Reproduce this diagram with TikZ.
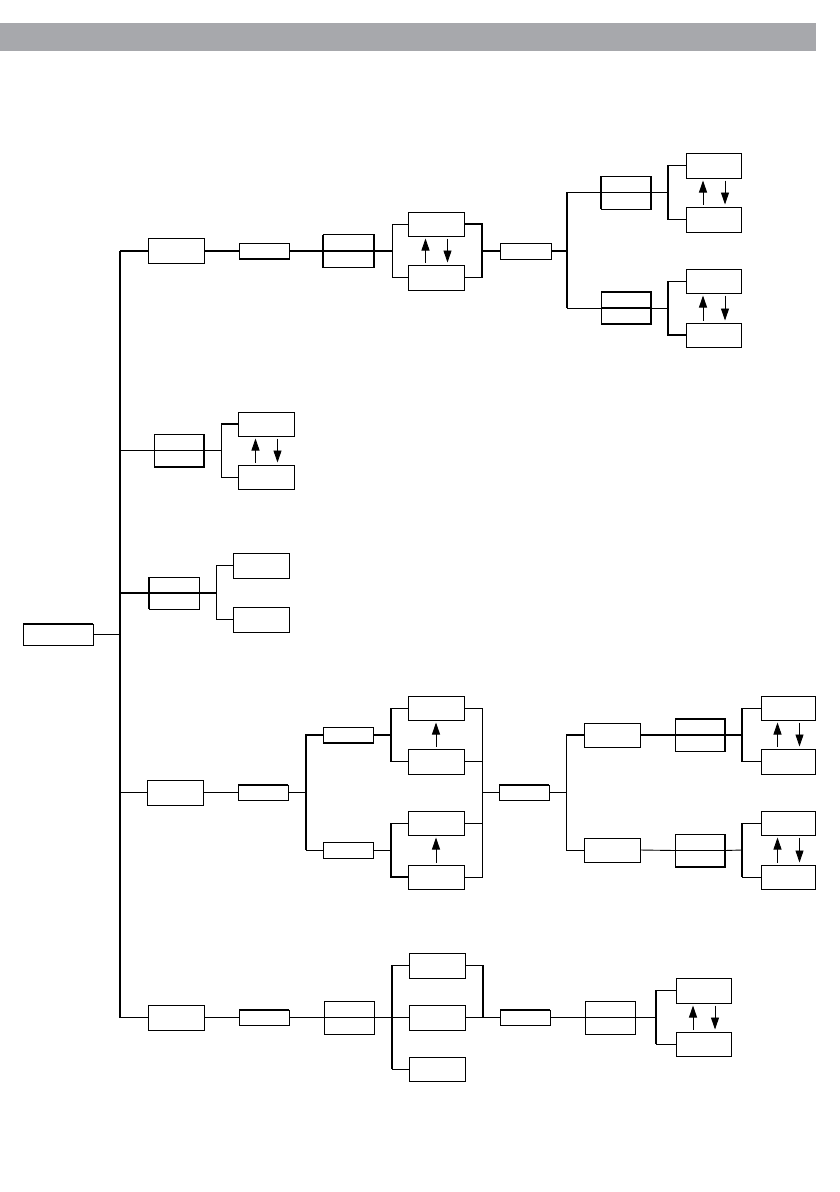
\documentclass[tikz,border=0pt]{standalone}
\usetikzlibrary{arrows.meta}
\definecolor{bargray}{RGB}{167,168,172}
\tikzset{
  box/.style={draw, line width=0.9pt, inner sep=0pt, outer sep=0pt},
  thk/.style={line width=1.8pt},
  thn/.style={line width=0.9pt},
  arr/.style={line width=0.9pt, -{Triangle[length=12pt,width=8pt]}, shorten <=2.5pt, shorten >=2.5pt}
}
\newcommand\bx[5]{\node[box, minimum width=#4pt, minimum height=#5pt] (#1) at (#2,#3) {};}
\newcommand\thru[1]{\draw[thk] (#1.west) -- (#1.east);}
\newcommand\arrpair[2]{%
  \draw[arr] ([xshift=-10.5pt]#2.north) -- ([xshift=-10.5pt]#1.south);
  \draw[arr] ([xshift=11.5pt]#1.south) -- ([xshift=11.5pt]#2.north);}
\newcommand\arrup[2]{\draw[arr] (#2.north) -- (#1.south);}
\begin{document}
\begin{tikzpicture}[x=1pt,y=-1pt]
\useasboundingbox (0,0) rectangle (840,1192);
\fill[bargray] (0,23) rectangle (816,51);

% ---------- boxes ----------
\bx{A1}{176}{251}{56}{25}
\bx{A2}{264}{251}{50}{16}
\bx{A3}{348.5}{251}{51}{33}
\bx{B1}{436}{224}{56}{24}
\bx{B2}{436}{277.5}{56}{25}
\bx{C}{525.5}{251}{51}{16}
\bx{D1}{626}{192.5}{50}{33}
\bx{D2}{626}{308}{50}{32}
\bx{E1}{713.5}{165.5}{55}{25}
\bx{E2}{713.5}{219.5}{55}{25}
\bx{F1}{713.5}{281}{55}{24}
\bx{F2}{713.5}{335}{55}{24}
\bx{G}{179}{450.5}{50}{33}
\bx{H1}{266}{424}{56}{24}
\bx{H2}{266}{477}{56}{24}
\bx{I}{174}{593}{50}{32}
\bx{J1}{261}{565.5}{56}{25}
\bx{J2}{261}{619.5}{56}{25}
\bx{K}{58}{634.5}{70}{21}
\bx{L1}{175}{792.5}{56}{25}
\bx{L2}{263}{792.5}{50}{15}
\bx{M1}{348}{735}{50}{16}
\bx{M2}{348}{850}{50}{16}
\bx{N1}{436}{708}{56}{24}
\bx{N2}{436}{761.5}{56}{25}
\bx{O1}{436}{823}{56}{24}
\bx{O2}{436}{877}{56}{24}
\bx{P}{524}{792.5}{50}{15}
\bx{Q1}{612}{735}{56}{24}
\bx{Q2}{612}{850}{56}{24}
\bx{R1}{700}{735}{50}{32}
\bx{R2}{700}{850.5}{50}{33}
\bx{S1}{788}{708}{54}{24}
\bx{S2}{788}{761.5}{54}{25}
\bx{T1}{788}{823}{54}{24}
\bx{T2}{788}{877}{54}{24}
\bx{U1}{176}{1017.5}{56}{25}
\bx{U2}{264}{1017.5}{50}{15}
\bx{U3}{349}{1017.5}{50}{33}
\bx{V1}{437}{965.5}{56}{25}
\bx{V2}{437}{1017.5}{56}{25}
\bx{V3}{437}{1069}{56}{24}
\bx{W1}{525}{1017.5}{50}{15}
\bx{W2}{610}{1017.5}{50}{33}
\bx{X1}{703.5}{990.5}{55}{25}
\bx{X2}{703.5}{1044}{55}{24}

% ---------- junctions ----------
\coordinate (t1) at (120,251);
\coordinate (t2) at (120,450.5);
\coordinate (t3) at (120,593);
\coordinate (tK) at (120,634.5);
\coordinate (t4) at (120,792.5);
\coordinate (t5) at (120,1017.5);
\coordinate (j1) at (392,251);
\coordinate (j2) at (482,251);
\coordinate (j3) at (567,251);
\coordinate (j4) at (668,192.5);
\coordinate (j5) at (668,308);
\coordinate (j6) at (221,450.5);
\coordinate (j7) at (216,593);
\coordinate (j8) at (306,792.5);
\coordinate (j9) at (391,735);
\coordinate (j10) at (391,850);
\coordinate (j11) at (482,792.5);
\coordinate (j12) at (566,792.5);
\coordinate (j13) at (742,735);
\coordinate (j14) at (742,850);
\coordinate (j15) at (392,1017.5);
\coordinate (j16) at (483,1017.5);
\coordinate (j17) at (656,1017.5);

% ---------- trunk ----------
\draw[thk] (t1) -- (t5);
\draw[thn] (K.east) -- (tK);

% ---------- branch 1 ----------
\draw[thk] (t1) -- (A1.west);
\draw[thk] (A1.east) -- (A2.west);
\draw[thk] (A2.east) -- (A3.west);
\thru{A3}
\draw[thk] (A3.east) -- (j1);
\draw[thn] (B1.west) -- (B1.west -| j1) -- (B2.west -| j1);
\draw[thk] (B2.west) -- (B2.west -| j1);
\draw[thk] (B1.east) -- (B1.east -| j2) -- (B2.east -| j2) -- (B2.east);
\draw[thk] (j2) -- (C.west);
\draw[thk] (C.east) -- (j3);
\draw[thk] (D1.west) -- (D1.west -| j3) -- (D2.west -| j3);
\draw[thn] (D2.west -| j3) -- (D2.west);
\thru{D1}
\thru{D2}
\draw[thk] (D1.east) -- (j4);
\draw[thn] (D2.east) -- (j5);
\draw[thk] (E1.west) -- (E1.west -| j4) -- (E2.west -| j4) -- (E2.west);
\draw[thn] (F1.west) -- (F1.west -| j5);
\draw[thk] (F1.west -| j5) -- (F2.west -| j5) -- (F2.west);
\arrpair{B1}{B2}
\arrpair{E1}{E2}
\arrpair{F1}{F2}

% ---------- branch 2 ----------
\draw[thn] (t2) -- (G.west);
\thru{G}
\draw[thn] (G.east) -- (j6);
\draw[thk] (H1.west) -- (H1.west -| j6);
\draw[thn] (H1.west -| j6) -- (H2.west -| j6) -- (H2.west);
\arrpair{H1}{H2}

% ---------- branch 3 ----------
\draw[thk] (t3) -- (I.west);
\thru{I}
\draw[thk] (I.east) -- (j7);
\draw[thk] (J1.west) -- (J1.west -| j7);
\draw[thn] (J1.west -| j7) -- (J2.west -| j7);
\draw[thk] (J2.west -| j7) -- (J2.west);

% ---------- branch 4 ----------
\draw[thk] (t4) -- (L1.west);
\draw[thk] (L1.east) -- (L2.west);
\draw[thk] (L2.east) -- (j8);
\draw[thk] (M1.west) -- (M1.west -| j8) -- (M2.west -| j8);
\draw[thn] (M2.west -| j8) -- (M2.west);
\draw[thk] (M1.east) -- (j9);
\draw[thn] (M2.east) -- (j10);
\draw[thn] (N1.west) -- (N1.west -| j9);
\draw[thk] (N1.west -| j9) -- (N2.west -| j9) -- (N2.west);
\draw[thn] (O1.west) -- (O1.west -| j10);
\draw[thk] (O1.west -| j10) -- (O2.west -| j10) -- (O2.west);
\draw[thn] (N1.east) -- (N1.east -| j11) -- (O2.east -| j11) -- (O2.east);
\draw[thk] (N2.east) -- (N2.east -| j11);
\draw[thn] (O1.east) -- (O1.east -| j11);
\arrup{N1}{N2}
\arrup{O1}{O2}
\draw[thk] (j11) -- (P.west);
\draw[thk] (P.east) -- (j12);
\draw[thn] (Q1.west -| j12) -- (Q2.west -| j12) -- (Q2.west);
\draw[thk] (Q1.west -| j12) -- (Q1.west);
\draw[thk] (Q1.east) -- (R1.west);
\draw[thn] (Q2.east) -- (R2.west);
\thru{R1}
\thru{R2}
\draw[thk] (R1.east) -- (j13);
\draw[thn] (R2.east) -- (j14);
\draw[thn] (S1.west) -- (S1.west -| j13);
\draw[thk] (S1.west -| j13) -- (S2.west -| j13) -- (S2.west);
\draw[thn] (T1.west) -- (T1.west -| j14);
\draw[thk] (T1.west -| j14) -- (T2.west -| j14);
\draw[thn] (T2.west -| j14) -- (T2.west);
\arrpair{S1}{S2}
\arrpair{T1}{T2}

% ---------- branch 5 ----------
\draw[thk] (t5) -- (U1.west);
\draw[thk] (U1.east) -- (U2.west);
\draw[thk] (U2.east) -- (U3.west);
\thru{U3}
\draw[thk] (U3.east) -- (j15);
\draw[thk] (V1.west) -- (V1.west -| j15) -- (V3.west -| j15);
\draw[thk] (j15) -- (V2.west);
\draw[thn] (V3.west -| j15) -- (V3.west);
\draw[thk] (V1.east) -- (V1.east -| j16) -- (j16);
\draw[thk] (V2.east) -- (W1.west);
\draw[thk] (W1.east) -- (W2.west);
\thru{W2}
\draw[thk] (W2.east) -- (j17);
\draw[thk] (X1.west) -- (X1.west -| j17) -- (X2.west -| j17);
\draw[thn] (X2.west -| j17) -- (X2.west);
\arrpair{X1}{X2}

% ---------- heavier box edges ----------
\draw[thk] (A2.south west) -- (A2.south east);
\draw[thk] (A3.north west) -- (A3.south west);
\draw[thk] (A3.north east) -- (A3.south east);
\draw[thk] (D1.north west) -- (D1.south west);
\draw[thk] (D1.north east) -- (D1.south east);
\draw[thk] (D2.north west) -- (D2.north east) -- (D2.south east) -- (D2.south west);
\draw[thk] (G.north east) -- (G.south east) -- (G.south west);
\draw[thk] (I.north west) -- (I.south west);
\draw[thk] (K.north west) -- (K.north east);
\draw[thk] (L2.north west) -- (L2.north east);
\draw[thk] (M1.south west) -- (M1.south east);
\draw[thk] (P.north west) -- (P.north east);
\draw[thk] (R1.north west) -- (R1.north east) -- (R1.south east);
\draw[thk] (R2.north east) -- (R2.south east) -- (R2.south west);
\draw[thk] (U2.north west) -- (U2.north east);
\draw[thk] (W1.north west) -- (W1.north east);
\end{tikzpicture}
\end{document}
